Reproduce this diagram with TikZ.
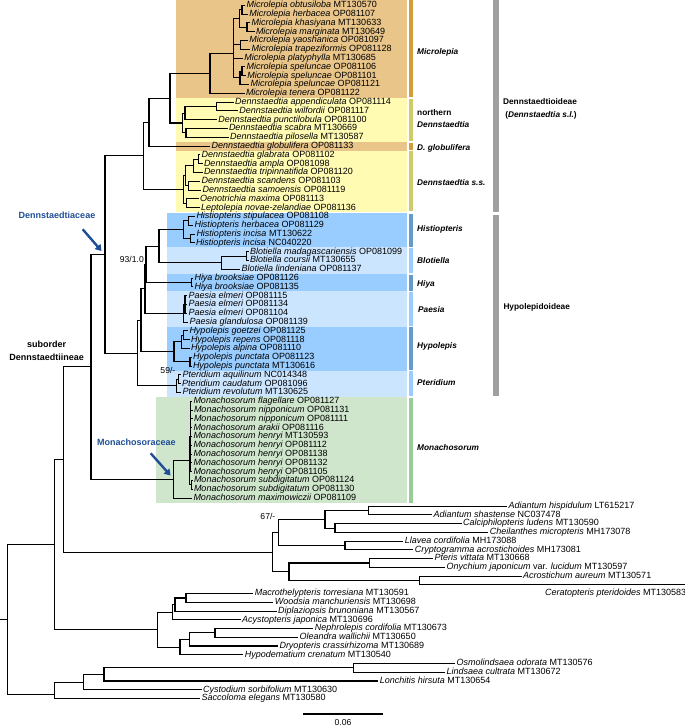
\documentclass[tikz,border=0pt]{standalone}
\usepackage{fontspec}
\setmainfont{Liberation Sans}
\usetikzlibrary{arrows.meta}
\definecolor{tanbg}{HTML}{E9C58A}
\definecolor{yelbg}{HTML}{FFFBB3}
\definecolor{bluebg}{HTML}{99CCFF}
\definecolor{lbluebg}{HTML}{CCE5FF}
\definecolor{greenbg}{HTML}{CFE6CC}
\definecolor{tanbar}{HTML}{D49D3C}
\definecolor{yelbar}{HTML}{CFCB6A}
\definecolor{bluebar}{HTML}{6699CC}
\definecolor{lbluebar}{HTML}{99CCFF}
\definecolor{greenbar}{HTML}{99CC99}
\definecolor{graybar}{HTML}{A0A0A0}
\definecolor{navyb}{HTML}{1F4E96}
\newcommand{\tax}[2]{\textit{#1} #2}
\newcommand{\tipR}[4]{\coordinate (#1) at (#2,{5.3+8.8*(#3)}); \node[lab] (#1t) at (#1) {#4};}
\newcommand{\tipS}[4]{\coordinate (#1) at (#2,{506.2+8.74*(#3)}); \node[lab] (#1t) at (#1) {#4};}
\newcommand{\inR}[3]{\coordinate (#1) at (#2,{5.3+8.8*(#3)});}
\newcommand{\inS}[3]{\coordinate (#1) at (#2,{506.2+8.74*(#3)});}
\newcommand{\kids}[2]{\foreach \kid in {#2}{\draw[br] (#1) |- (\kid);}}
\begin{document}
\begin{tikzpicture}[x=1pt,y=-1pt,
  br/.style={line width=1.1pt, black},
  lab/.style={anchor=west, inner sep=0pt, xshift=1.3pt, font=\fontsize{9}{9}\selectfont, text height=6.4pt, text depth=1.8pt},
  glab/.style={anchor=west, inner sep=0pt, font=\fontsize{8.3}{9.6}\selectfont\bfseries},
  sup/.style={anchor=east, inner sep=0pt, font=\fontsize{8.6}{9}\selectfont},
  famlab/.style={inner sep=0pt, font=\fontsize{9}{10}\selectfont\bfseries, text=navyb},
  farrow/.style={navyb, line width=2.4pt, -{Triangle[length=6pt,width=7.5pt]}}]
\useasboundingbox (0,0) rectangle (685,726);
% backgrounds
\fill[tanbg] (176,0) rectangle (407,97.7);
\fill[yelbg] (176,97.7) rectangle (407,141.7);
\fill[tanbg] (176,141.7) rectangle (407,150.5);
\fill[yelbg] (176,150.5) rectangle (407,212.1);
\fill[bluebg] (167,213.3) rectangle (407,247.3);
\fill[lbluebg] (167,247.3) rectangle (407,273.7);
\fill[bluebg] (167,273.7) rectangle (407,291.3);
\fill[lbluebg] (167,291.3) rectangle (407,326.5);
\fill[bluebg] (167,326.5) rectangle (407,370.5);
\fill[lbluebg] (167,370.5) rectangle (407,396.9);
\fill[greenbg] (156,396.9) rectangle (407,502.5);
% clade bars
\fill[tanbar] (408.7,0) rectangle (413.3,96.9);
\fill[yelbar] (408.7,98.5) rectangle (413.3,140.9);
\fill[tanbar] (408.7,142.5) rectangle (413.3,149.7);
\fill[yelbar] (408.7,151.3) rectangle (413.3,211.3);
\fill[bluebar] (408.7,214.1) rectangle (413.3,246.5);
\fill[lbluebar] (408.7,248.1) rectangle (413.3,272.9);
\fill[bluebar] (408.7,274.5) rectangle (413.3,290.5);
\fill[lbluebar] (408.7,292.1) rectangle (413.3,325.7);
\fill[bluebar] (408.7,327.3) rectangle (413.3,369.7);
\fill[lbluebar] (408.7,371.3) rectangle (413.3,396.1);
\fill[greenbar] (408.7,397.7) rectangle (413.3,502.5);
\fill[graybar] (493.3,0) rectangle (499,212.3);
\fill[graybar] (493.3,215.3) rectangle (499,396.1);
% clade labels
\node[glab] (gMic) at (417,52.7) {\textit{Microlepia}};
\node[glab] (gNor1) at (417,112.7) {northern};
\node[glab] (gNor2) at (417,125) {\textit{Dennstaedtia}};
\node[glab] (gGlo) at (417,148.3) {\textit{D. globulifera}};
\node[glab] (gDss) at (417,182.7) {\textit{Dennstaedtia s.s.}};
\node[glab] (gHis) at (417,229) {\textit{Histiopteris}};
\node[glab] (gBlo) at (417,261) {\textit{Blotiella}};
\node[glab] (gHiy) at (417,284.3) {\textit{Hiya}};
\node[glab] (gPae) at (418,310) {\textit{Paesia}};
\node[glab] (gHyp) at (417,346.7) {\textit{Hypolepis}};
\node[glab] (gPte) at (417,382.7) {\textit{Pteridium}};
\node[glab] (gMon) at (417,447.7) {\textit{Monachosorum}};
\node[glab, anchor=center] (gDen1) at (540,101.7) {Dennstaedtioideae};
\node[glab, anchor=center] (gDen2) at (541,115.7) {(\textit{Dennstaedtia s.l.})};
\node[glab] (gHypo) at (503.3,307.7) {Hypolepidoideae};
% tips: Microlepia
\tipR{mi0}{245.2}{0}{\tax{Microlepia obtusiloba}{MT130570}}
\tipR{mi1}{247.8}{1}{\tax{Microlepia herbacea}{OP081107}}
\tipR{mi2}{250.2}{2}{\tax{Microlepia khasiyana}{MT130633}}
\tipR{mi3}{254.5}{3}{\tax{Microlepia marginata}{MT130649}}
\tipR{mi4}{247.8}{4}{\tax{Microlepia yaoshanica}{OP081097}}
\tipR{mi5}{250.2}{5}{\tax{Microlepia trapeziformis}{OP081128}}
\tipR{mi6}{242.8}{6}{\tax{Microlepia platyphylla}{MT130685}}
\tipR{mi7}{245.2}{7}{\tax{Microlepia speluncae}{OP081106}}
\tipR{mi8}{245.8}{8}{\tax{Microlepia speluncae}{OP081101}}
\tipR{mi9}{249.2}{9}{\tax{Microlepia speluncae}{OP081121}}
\tipR{mi10}{244.5}{10}{\tax{Microlepia tenera}{OP081122}}
\tipR{dn11}{233.5}{11}{\tax{Dennstaedtia appendiculata}{OP081114}}
\tipR{dn12}{237.8}{12}{\tax{Dennstaedtia wilfordii}{OP081117}}
\tipR{dn13}{216.8}{13}{\tax{Dennstaedtia punctilobula}{OP081100}}
\tipR{dn14}{227.5}{14}{\tax{Dennstaedtia scabra}{MT130669}}
\tipR{dn15}{228.5}{15}{\tax{Dennstaedtia pilosella}{MT130587}}
\tipR{dg16}{210}{16}{\tax{Dennstaedtia globulifera}{OP081133}}
\tipR{ds17}{200.2}{17}{\tax{Dennstaedtia glabrata}{OP081102}}
\tipR{ds18}{202.5}{18}{\tax{Dennstaedtia ampla}{OP081098}}
\tipR{ds19}{202.5}{19}{\tax{Dennstaedtia tripinnatifida}{OP081120}}
\tipR{ds20}{200.2}{20}{\tax{Dennstaedtia scandens}{OP081103}}
\tipR{ds21}{201.2}{21}{\tax{Dennstaedtia samoensis}{OP081119}}
\tipR{ds22}{198.5}{22}{\tax{Oenotrichia maxima}{OP081113}}
\tipR{ds23}{199.5}{23}{\tax{Leptolepia novae-zelandiae}{OP081136}}
\tipR{hi24}{195}{24}{\tax{Histiopteris stipulacea}{OP081108}}
\tipR{hi25}{193}{25}{\tax{Histiopteris herbacea}{OP081129}}
\tipR{hi26}{195}{26}{\tax{Histiopteris incisa}{MT130622}}
\tipR{hi27}{194.5}{27}{\tax{Histiopteris incisa}{NC040220}}
\tipR{bl28}{248.5}{28}{\tax{Blotiella madagascariensis}{OP081099}}
\tipR{bl29}{248.5}{29}{\tax{Blotiella coursii}{MT130655}}
\tipR{bl30}{240.2}{30}{\tax{Blotiella lindeniana}{OP081137}}
\tipR{hy31}{193}{31}{\tax{Hiya brooksiae}{OP081126}}
\tipR{hy32}{193}{32}{\tax{Hiya brooksiae}{OP081135}}
\tipR{pa33}{187}{33}{\tax{Paesia elmeri}{OP081115}}
\tipR{pa34}{187}{34}{\tax{Paesia elmeri}{OP081134}}
\tipR{pa35}{187}{35}{\tax{Paesia elmeri}{OP081104}}
\tipR{pa36}{188}{36}{\tax{Paesia glandulosa}{OP081139}}
\tipR{hp37}{188}{37}{\tax{Hypolepis goetzei}{OP081125}}
\tipR{hp38}{189.5}{38}{\tax{Hypolepis repens}{OP081118}}
\tipR{hp39}{189.5}{39}{\tax{Hypolepis alpina}{OP081110}}
\tipR{hp40}{191.5}{40}{\tax{Hypolepis punctata}{OP081123}}
\tipR{hp41}{191.5}{41}{\tax{Hypolepis punctata}{MT130616}}
\tipR{pt42}{181}{42}{\tax{Pteridium aquilinum}{NC014348}}
\tipR{pt43}{180.5}{43}{\tax{Pteridium caudatum}{OP081096}}
\tipR{pt44}{181}{44}{\tax{Pteridium revolutum}{MT130625}}
\tipR{mo45}{192}{45}{\tax{Monachosorum flagellare}{OP081127}}
\tipR{mo46}{192.5}{46}{\tax{Monachosorum nipponicum}{OP081131}}
\tipR{mo47}{192.5}{47}{\tax{Monachosorum nipponicum}{OP081111}}
\tipR{mo48}{192}{48}{\tax{Monachosorum arakii}{OP081116}}
\tipR{mo49}{192}{49}{\tax{Monachosorum henryi}{MT130593}}
\tipR{mo50}{192}{50}{\tax{Monachosorum henryi}{OP081112}}
\tipR{mo51}{192}{51}{\tax{Monachosorum henryi}{OP081138}}
\tipR{mo52}{192}{52}{\tax{Monachosorum henryi}{OP081132}}
\tipR{mo53}{192}{53}{\tax{Monachosorum henryi}{OP081105}}
\tipR{mo54}{192.5}{54}{\tax{Monachosorum subdigitatum}{OP081124}}
\tipR{mo55}{192.5}{55}{\tax{Monachosorum subdigitatum}{OP081130}}
\tipR{mo56}{192}{56}{\tax{Monachosorum maximowiczii}{OP081109}}
% outgroup tips
\tipS{og0}{507}{0}{\tax{Adiantum hispidulum}{LT615217}}
\tipS{og1}{432}{1}{\tax{Adiantum shastense}{NC037478}}
\tipS{og2}{461.7}{2}{\tax{Calciphilopteris ludens}{MT130590}}
\tipS{og3}{488.3}{3}{\tax{Cheilanthes micropteris}{MH173078}}
\tipS{og4}{403.3}{4}{\tax{Llavea cordifolia}{MH173088}}
\tipS{og5}{413.3}{5}{\tax{Cryptogramma acrostichoides}{MH173081}}
\tipS{og6}{433}{6}{\tax{Pteris vittata}{MT130668}}
\tipS{og7}{445}{7}{\textit{Onychium japonicum} var. \textit{lucidum} MT130597}
\tipS{og8}{521.7}{8}{\tax{Acrostichum aureum}{MT130571}}
\coordinate (og9) at (685,{506.2+8.74*9});
\node[lab, anchor=east, xshift=0pt] (og9t) at (685,{506.2+8.74*10}) {\tax{Ceratopteris pteridoides}{MT130583}};
\tipS{og10}{253.3}{10}{\tax{Macrothelypteris torresiana}{MT130591}}
\tipS{og11}{273.3}{11}{\tax{Woodsia manchuriensis}{MT130698}}
\tipS{og12}{276.7}{12}{\tax{Diplaziopsis brunoniana}{MT130567}}
\tipS{og13}{240.7}{13}{\tax{Acystopteris japonica}{MT130696}}
\tipS{og14}{313.3}{14}{\tax{Nephrolepis cordifolia}{MT130673}}
\tipS{og15}{298}{15}{\tax{Oleandra wallichii}{MT130650}}
\tipS{og16}{278}{16}{\tax{Dryopteris crassirhizoma}{MT130689}}
\tipS{og17}{243.3}{17}{\tax{Hypodematium crenatum}{MT130540}}
\tipS{og18}{455}{18}{\tax{Osmolindsaea odorata}{MT130576}}
\tipS{og19}{445}{19}{\tax{Lindsaea cultrata}{MT130672}}
\tipS{og20}{378.3}{20}{\tax{Lonchitis hirsuta}{MT130654}}
\tipS{og21}{201.7}{21}{\tax{Cystodium sorbifolium}{MT130630}}
\tipS{og22}{200}{22}{\tax{Saccoloma elegans}{MT130580}}
% internal nodes
\inR{Moh}{242}{0.5} \inR{Mkm}{247}{2.5} \inR{Mohkm}{239.3}{1.5}
\inR{Myt}{240.7}{4.5} \inR{Msp12}{242}{7.5} \inR{Msp}{240}{8.25}
\inR{Mcore}{233.3}{5.5} \inR{Mroot}{210}{7.75}
\inR{Naw}{216.7}{11.5} \inR{Nawp}{185}{12.25} \inR{Nsp}{186}{14.5}
\inR{Ndn}{182.7}{13.375} \inR{Nmd}{170}{10.5625} \inR{Nmdg}{149}{13.28}
\inR{Dga}{198.3}{17.5} \inR{Dgat}{193.3}{18.25} \inR{Dss2}{188.3}{20.5}
\inR{Dup}{185.7}{19.375} \inR{Dol}{186.7}{22.5} \inR{Dss}{183.3}{20.9375}
\inR{Nden}{143.3}{17.11}
\inR{Hsh}{188.3}{24.5} \inR{Hin}{190.5}{26.5} \inR{Hist}{183.3}{25.5}
\inR{Bmc}{246.7}{28.5} \inR{Blot}{221.7}{29.25} \inR{Nhb}{159}{27.375}
\inR{Hiya}{191.7}{31.5} \inR{Nhbh}{146}{29.4375}
\inR{Pe}{185}{34} \inR{Paes}{183.3}{35} \inR{Nhbhp}{145}{32.22}
\inR{Hgr}{183.3}{37.5} \inR{Hgra}{181.7}{38.25} \inR{Hpp}{190}{40.5}
\inR{Hyp}{174}{39.375} \inR{Nhbhph}{141}{35.8}
\inR{Pac}{178.3}{42.5} \inR{Pter}{176.7}{43.25} \inR{Nhyp}{137.3}{39.52}
\inR{Ndta}{105}{28.3}
\inR{Ma}{190.3}{49} \inR{Mb}{191.3}{54.5} \inR{Min}{189.3}{51.75}
\inR{Mon}{173.3}{53.875} \inR{Ndenn}{91}{41.09}
\inS{Nadi}{368.3}{0.5} \inS{Ncalch}{335}{2.5} \inS{Nadch}{325}{1.5}
\inS{Nllcr}{345}{4.5} \inS{N67}{278.3}{3} \inS{Npton}{369.3}{6.5}
\inS{Nacce}{419.3}{8.5} \inS{Npt2}{289}{7.5} \inS{Npter}{272.3}{5.25}
\inS{Emw}{186}{10.5} \inS{Emwd}{175}{11.25} \inS{Etop}{172.7}{12.125}
\inS{Eno}{215}{14.5} \inS{Enod}{189.3}{15.25} \inS{Ebot}{180}{16.125}
\inS{E}{157.7}{14.125}
\inS{Lol}{353.3}{18.5} \inS{Loll}{104}{19.25} \inS{Lollc}{83.3}{20.125}
\inS{L}{54.3}{21.5625}
\coordinate (N63) at (63.3,459.5);
\coordinate (N54) at (54.3,544.6);
\coordinate (Root) at (7.3,619.6);
\coordinate (RootStem) at (0,619.6);
% branches
\kids{Moh}{mi0,mi1} \kids{Mkm}{mi2,mi3} \kids{Mohkm}{Moh,Mkm}
\kids{Myt}{mi4,mi5} \kids{Msp12}{mi7,mi8} \kids{Msp}{Msp12,mi9}
\kids{Mcore}{Mohkm,Myt,mi6,Msp} \kids{Mroot}{Mcore,mi10}
\kids{Naw}{dn11,dn12} \kids{Nawp}{Naw,dn13} \kids{Nsp}{dn14,dn15}
\kids{Ndn}{Nawp,Nsp} \kids{Nmd}{Mroot,Ndn} \kids{Nmdg}{Nmd,dg16}
\kids{Dga}{ds17,ds18} \kids{Dgat}{Dga,ds19} \kids{Dss2}{ds20,ds21}
\kids{Dup}{Dgat,Dss2} \kids{Dol}{ds22,ds23} \kids{Dss}{Dup,Dol}
\kids{Nden}{Nmdg,Dss}
\kids{Hsh}{hi24,hi25} \kids{Hin}{hi26,hi27} \kids{Hist}{Hsh,Hin}
\kids{Bmc}{bl28,bl29} \kids{Blot}{Bmc,bl30} \kids{Nhb}{Hist,Blot}
\kids{Hiya}{hy31,hy32} \kids{Nhbh}{Nhb,Hiya}
\kids{Pe}{pa33,pa34,pa35} \kids{Paes}{Pe,pa36} \kids{Nhbhp}{Nhbh,Paes}
\kids{Hgr}{hp37,hp38} \kids{Hgra}{Hgr,hp39} \kids{Hpp}{hp40,hp41}
\kids{Hyp}{Hgra,Hpp} \kids{Nhbhph}{Nhbhp,Hyp}
\kids{Pac}{pt42,pt43} \kids{Pter}{Pac,pt44} \kids{Nhyp}{Nhbhph,Pter}
\kids{Ndta}{Nden,Nhyp}
\kids{Ma}{mo45,mo46,mo47,mo48,mo49,mo50,mo51,mo52,mo53}
\kids{Mb}{mo54,mo55} \kids{Min}{Ma,Mb} \kids{Mon}{Min,mo56}
\kids{Ndenn}{Ndta,Mon}
\kids{Nadi}{og0,og1} \kids{Ncalch}{og2,og3} \kids{Nadch}{Nadi,Ncalch}
\kids{Nllcr}{og4,og5} \kids{N67}{Nadch,Nllcr}
\kids{Npton}{og6,og7} \kids{Nacce}{og8,og9} \kids{Npt2}{Npton,Nacce}
\kids{Npter}{N67,Npt2}
\kids{Emw}{og10,og11} \kids{Emwd}{Emw,og12} \kids{Etop}{Emwd,og13}
\kids{Eno}{og14,og15} \kids{Enod}{Eno,og16} \kids{Ebot}{Enod,og17}
\kids{E}{Etop,Ebot}
\kids{Lol}{og18,og19} \kids{Loll}{Lol,og20} \kids{Lollc}{Loll,og21}
\kids{L}{Lollc,og22}
\kids{N63}{Ndenn,Npter} \kids{N54}{N63,E} \kids{Root}{N54,L}
\draw[br] (RootStem) -- (Root);
% support values
\node[sup] (s93) at (144,259.3) {93/1.0};
\node[sup] (s59) at (175.5,370) {59/-};
\node[sup] (s67) at (275.5,516.7) {67/-};
% family labels
\node[famlab] (fDen) at (57,215) {Dennstaedtiaceae};
\coordinate (aDen1) at (82.7,229.3); \coordinate (aDen2) at (101.5,251);
\draw[farrow] (aDen1) -- (aDen2);
\node[famlab] (fMon) at (136.3,442.3) {Monachosoraceae};
\coordinate (aMon1) at (150.7,453.3); \coordinate (aMon2) at (170.5,475.5);
\draw[farrow] (aMon1) -- (aMon2);
\node[inner sep=0pt, font=\fontsize{9}{10}\selectfont\bfseries] (sub1) at (46.7,344.3) {suborder};
\node[inner sep=0pt, font=\fontsize{9}{10}\selectfont\bfseries] (sub2) at (46.7,357.7) {Dennstaedtiineae};
% scale bar
\coordinate (sb1) at (303,714); \coordinate (sb2) at (383,714);
\draw[br] (sb1) -- (sb2);
\node[inner sep=0pt, font=\fontsize{8.6}{9}\selectfont] (sbl) at (343,722.5) {0.06};
\end{tikzpicture}
\end{document}
